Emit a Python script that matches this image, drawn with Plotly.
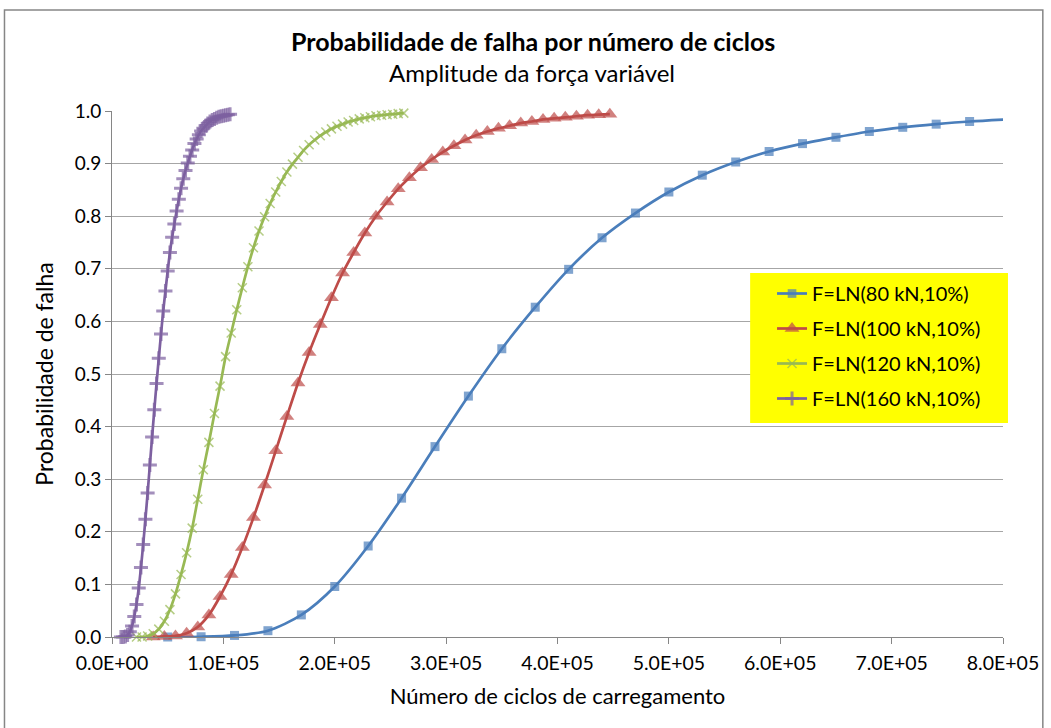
import plotly.graph_objects as go

# ---- data: failure probability vs. number of load cycles ----
series_names = ["F=LN(80 kN,10%)", "F=LN(100 kN,10%)", "F=LN(120 kN,10%)", "F=LN(160 kN,10%)"]

cycles_80 = [50000, 80000, 110000, 140000, 170000, 200000, 230000, 260000, 290000,
             320000, 350000, 380000, 410000, 440000, 470000, 500000, 530000, 560000,
             590000, 620000, 650000, 680000, 710000, 740000, 770000, 830000]
prob_80 = [0.000, 0.0005, 0.003, 0.012, 0.042, 0.096, 0.173, 0.264, 0.362,
           0.458, 0.548, 0.627, 0.699, 0.759, 0.806, 0.846, 0.878, 0.903,
           0.923, 0.938, 0.950, 0.961, 0.969, 0.975, 0.980, 0.987]

cycles_100 = [37000, 47000, 57000, 67000, 77000, 87000, 97000, 107000, 117000, 127000,
              137000, 147000, 157000, 167000, 177000, 187000, 197000, 207000, 217000, 227000,
              237000, 247000, 257000, 267000, 277000, 287000, 297000, 307000, 317000, 327000,
              337000, 347000, 357000, 367000, 377000, 387000, 397000, 407000, 417000, 427000,
              437000, 447000]
prob_100 = [0.000, 0.001, 0.002, 0.007, 0.019, 0.042, 0.077, 0.119, 0.170, 0.227,
            0.289, 0.354, 0.419, 0.483, 0.541, 0.594, 0.645, 0.692, 0.731, 0.768,
            0.800, 0.827, 0.852, 0.873, 0.892, 0.908, 0.922, 0.934, 0.945, 0.954,
            0.961, 0.967, 0.972, 0.977, 0.980, 0.984, 0.986, 0.988, 0.990, 0.992,
            0.993, 0.994]

cycles_120 = [22000, 27000, 32000, 37000, 42000, 47000, 52000, 57000, 62000, 67000,
              72000, 77000, 82000, 87000, 92000, 97000, 102000, 107000, 112000, 117000,
              122000, 127000, 132000, 137000, 142000, 147000, 152000, 157000, 162000, 167000,
              172000, 177000, 182000, 187000, 192000, 197000, 202000, 207000, 212000, 217000,
              222000, 227000, 232000, 237000, 242000, 247000, 252000, 257000, 262000]
prob_120 = [0.000, 0.000, 0.002, 0.006, 0.015, 0.030, 0.052, 0.082, 0.119, 0.160,
            0.207, 0.262, 0.318, 0.370, 0.425, 0.477, 0.533, 0.578, 0.622, 0.664,
            0.704, 0.740, 0.772, 0.799, 0.824, 0.846, 0.866, 0.884, 0.899, 0.912,
            0.925, 0.936, 0.945, 0.953, 0.960, 0.966, 0.971, 0.975, 0.979, 0.982,
            0.985, 0.987, 0.989, 0.991, 0.992, 0.993, 0.994, 0.995, 0.996]

cycles_160 = [8000, 10000, 12000, 14000, 16000, 18000, 20000, 22000, 24000, 26000,
              28000, 30000, 32000, 34000, 36000, 38000, 40000, 42000, 44000, 46000,
              48000, 50000, 52000, 54000, 56000, 58000, 60000, 62000, 64000, 66000,
              68000, 70000, 72000, 74000, 76000, 78000, 80000, 82000, 84000, 86000,
              88000, 90000, 92000, 94000, 96000, 98000, 100000, 102000, 104000, 106000]
prob_160 = [0.000, 0.000, 0.001, 0.004, 0.010, 0.021, 0.039, 0.062, 0.093, 0.132,
            0.176, 0.224, 0.274, 0.327, 0.380, 0.432, 0.482, 0.530, 0.576, 0.620,
            0.658, 0.696, 0.731, 0.760, 0.785, 0.810, 0.832, 0.853, 0.871, 0.887,
            0.901, 0.914, 0.926, 0.938, 0.947, 0.955, 0.962, 0.967, 0.972, 0.976,
            0.980, 0.983, 0.985, 0.987, 0.989, 0.990, 0.991, 0.992, 0.993, 0.994]

x_tick_values = [0, 100000, 200000, 300000, 400000, 500000, 600000, 700000, 800000]
x_tick_labels = ["0.0E+00", "1.0E+05", "2.0E+05", "3.0E+05", "4.0E+05",
                 "5.0E+05", "6.0E+05", "7.0E+05", "8.0E+05"]

title_text = "Probabilidade de falha por número de ciclos"
subtitle_text = "Amplitude da força variável"
x_title = "Número de ciclos de carregamento"
y_title = "Probabilidade de falha"

# ---- styling ----
FONT = "Lato, DejaVu Sans Condensed, sans-serif"
GRID = "#a6a6a6"
AXIS = "#868686"

W, H = 1051, 728
ML, MR, MT, MB = 112, 44, 111, 91
PW, PH = W - ML - MR, H - MT - MB


def px_to_paper_x(px):
    return (px - ML) / PW


def px_to_paper_y(py):
    return (H - MB - py) / PH


styles = [
    dict(color="#4a7ebb", symbol="square", size=9, lw=0),
    dict(color="#be4b48", symbol="triangle-up", size=13, lw=0),
    dict(color="#98b954", symbol="x-thin", size=9, lw=1.5),
    dict(color="#7d60a0", symbol="cross-thin", size=10, lw=3),
]

data = [(cycles_80, prob_80), (cycles_100, prob_100),
        (cycles_120, prob_120), (cycles_160, prob_160)]

fig = go.Figure()
for i, (name, (xs, ys), st) in enumerate(zip(series_names, data, styles)):
    # points beyond the x-axis maximum only carry the line to the edge
    sizes = [st["size"] if x <= x_tick_values[-1] else 0 for x in xs]
    fig.add_trace(go.Scatter(
        x=xs, y=ys, name=name, mode="lines+markers", legendgroup=f"g{i}",
        line=dict(color=st["color"], width=2.7, shape="spline", smoothing=0.8),
        marker=dict(symbol=st["symbol"], size=sizes, color=st["color"],
                    line=dict(color=st["color"], width=st["lw"])),
        cliponaxis=False,
    ))

fig.update_layout(
    width=W, height=H,
    margin=dict(l=ML, r=MR, t=MT, b=MB),
    paper_bgcolor="white", plot_bgcolor="white",
    font=dict(family=FONT, size=19, color="black"),
    showlegend=True,
    legend=dict(
        x=px_to_paper_x(775), y=px_to_paper_y(274), xanchor="left", yanchor="top",
        bgcolor="rgba(0,0,0,0)", borderwidth=0,
        font=dict(family=FONT, size=20, color="black"),
        tracegroupgap=6, traceorder="grouped",
    ),
    xaxis=dict(
        range=[0, 800000], tickvals=x_tick_values, ticktext=x_tick_labels,
        showgrid=False, zeroline=False,
        showline=True, linecolor=AXIS, linewidth=1,
        ticks="outside", ticklen=6, tickcolor=AXIS, ticklabelstandoff=3,
        tickfont=dict(family=FONT, size=19.5),
        title=dict(text=x_title, font=dict(family=FONT, size=22), standoff=15),
    ),
    yaxis=dict(
        range=[0, 1], dtick=0.1, tick0=0, tickformat=".1f",
        showgrid=True, gridcolor=GRID, gridwidth=1, zeroline=False,
        showline=True, linecolor=AXIS, linewidth=1,
        ticks="outside", ticklen=6, tickcolor=AXIS,
        tickfont=dict(family=FONT, size=19),
        title=dict(text=y_title, font=dict(family=FONT, size=23), standoff=14),
    ),
    annotations=[
        dict(text="<b>" + title_text + "</b>", x=px_to_paper_x(535), y=px_to_paper_y(41),
             xref="paper", yref="paper", xanchor="center", yanchor="middle",
             showarrow=False, font=dict(family=FONT, size=25, color="black")),
        dict(text=subtitle_text, x=px_to_paper_x(534), y=px_to_paper_y(72),
             xref="paper", yref="paper", xanchor="center", yanchor="middle",
             showarrow=False, font=dict(family=FONT, size=24, color="black")),
    ],
    shapes=[
        # outer chart frame
        dict(type="rect", xref="paper", yref="paper", layer="below",
             x0=px_to_paper_x(4), x1=px_to_paper_x(1047),
             y0=px_to_paper_y(760), y1=px_to_paper_y(10),
             line=dict(color=AXIS, width=1.5), fillcolor="rgba(0,0,0,0)"),
        # yellow legend background
        dict(type="rect", xref="paper", yref="paper", layer="above",
             x0=px_to_paper_x(753), x1=px_to_paper_x(1012),
             y0=px_to_paper_y(423), y1=px_to_paper_y(273),
             line=dict(width=0), fillcolor="#ffff00"),
    ],
)

fig.write_html("out.html")
